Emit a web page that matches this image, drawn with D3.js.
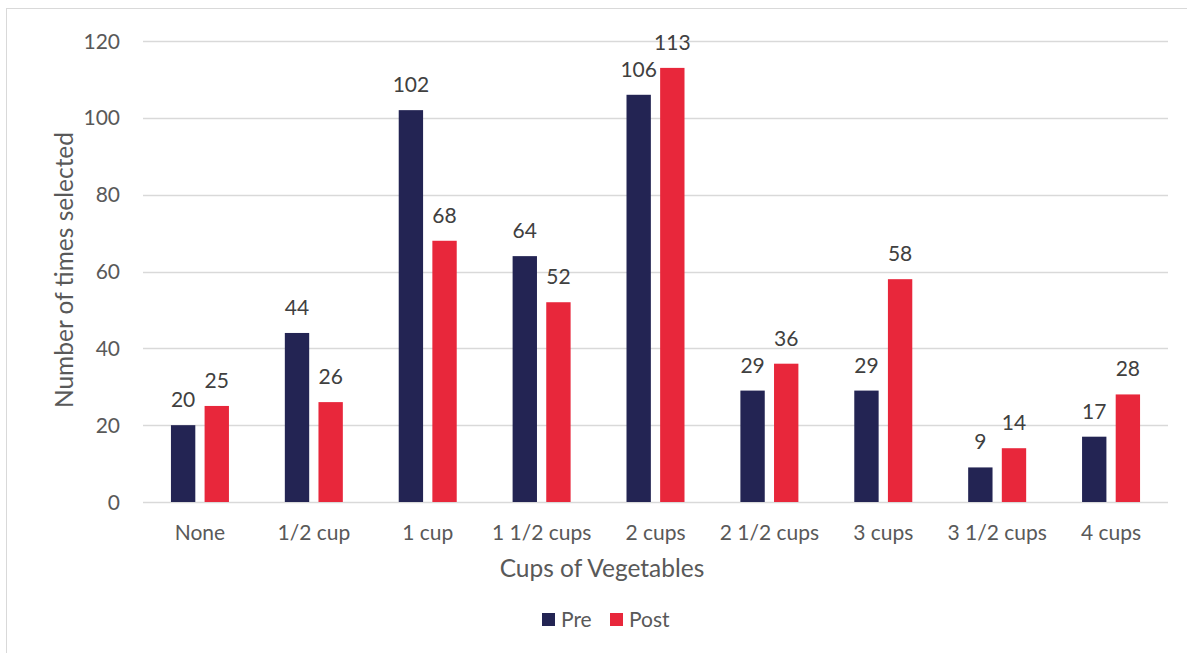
<!DOCTYPE html>
<html>
<head>
<meta charset="utf-8">
<script src="https://cdn.jsdelivr.net/npm/d3@7"></script>
<style>
  html, body { margin: 0; padding: 0; background: #fff; }
  svg { display: block; }
  text { font-family: Lato, "Open Sans", sans-serif; }
</style>
</head>
<body>
<svg id="chart" width="1187" height="653"></svg>
<script>
// Survey responses: cups of vegetables chosen, before and after the programme
const categories = ["None", "1/2 cup", "1 cup", "1 1/2 cups", "2 cups", "2 1/2 cups", "3 cups", "3 1/2 cups", "4 cups"];
const seriesNames = ["Pre", "Post"];
const preValues = [20, 44, 102, 64, 106, 29, 29, 9, 17];
const postValues = [25, 26, 68, 52, 113, 36, 58, 14, 28];
const yTicks = [0, 20, 40, 60, 80, 100, 120];
const colors = ["#232453", "#e8273b"];

const svg = d3.select("#chart");
const W = 1187, H = 653;
const plot = { left: 143, right: 1168, top: 41, bottom: 502 };

// outer chart frame
svg.append("rect")
  .attr("x", 6.5).attr("y", 8.5)
  .attr("width", W + 10).attr("height", H + 10)
  .attr("fill", "none").attr("stroke", "#d9d9d9").attr("stroke-width", 1);

const x0 = d3.scaleBand().domain(categories).range([plot.left, plot.right]).paddingInner(0).paddingOuter(0);
const x1 = d3.scaleBand().domain(seriesNames).range([0, 58]).paddingInner(8 / 58 * 2).paddingOuter(0);
const y = d3.scaleLinear().domain([0, 120]).range([plot.bottom, plot.top]);

// gridlines
svg.append("g").selectAll("line").data(yTicks).join("line")
  .attr("x1", plot.left).attr("x2", plot.right)
  .attr("y1", d => Math.round(y(d)) + 0.5).attr("y2", d => Math.round(y(d)) + 0.5)
  .attr("stroke", "#d9d9d9").attr("stroke-width", 1.3);

// y axis tick labels
svg.append("g").selectAll("text").data(yTicks).join("text")
  .attr("x", 120).attr("y", d => y(d)).attr("dy", "0.36em")
  .attr("text-anchor", "end").attr("fill", "#595959").attr("font-size", 21)
  .text(d => d);

const data = categories.map((c, i) => ({ cat: c, vals: [preValues[i], postValues[i]] }));

const groups = svg.append("g").selectAll("g").data(data).join("g")
  .attr("transform", d => `translate(${x0(d.cat) + (x0.bandwidth() - 58) / 2},0)`);

groups.selectAll("rect").data(d => d.vals.map((v, j) => ({ s: seriesNames[j], v, j }))).join("rect")
  .attr("x", d => x1(d.s)).attr("width", x1.bandwidth())
  .attr("y", d => y(d.v)).attr("height", d => y(0) - y(d.v))
  .attr("fill", d => colors[d.j]);

groups.selectAll("text").data(d => d.vals.map((v, j) => ({ s: seriesNames[j], v, j }))).join("text")
  .attr("x", d => x1(d.s) + x1.bandwidth() / 2).attr("y", d => y(d.v) - 18)
  .attr("text-anchor", "middle").attr("fill", "#404040").attr("font-size", 21)
  .text(d => d.v);

// category labels
svg.append("g").selectAll("text").data(categories).join("text")
  .attr("x", d => x0(d) + x0.bandwidth() / 2).attr("y", 540)
  .attr("text-anchor", "middle").attr("fill", "#595959").attr("font-size", 21)
  .text(d => d);

// axis titles
svg.append("text").attr("x", 602).attr("y", 577).attr("text-anchor", "middle")
  .attr("fill", "#595959").attr("font-size", 24.5).text("Cups of Vegetables");
svg.append("text").attr("transform", "translate(73,270) rotate(-90)").attr("text-anchor", "middle")
  .attr("fill", "#595959").attr("font-size", 24.5).text("Number of times selected");

// legend
const legend = svg.append("g").selectAll("g").data(seriesNames).join("g")
  .attr("transform", (d, i) => `translate(${i === 0 ? 542 : 610},613)`);
legend.append("rect").attr("width", 13).attr("height", 13).attr("fill", (d, i) => colors[i]);
legend.append("text").attr("x", 19).attr("y", 14).attr("fill", "#595959").attr("font-size", 21).text(d => d);
</script>
</body>
</html>
